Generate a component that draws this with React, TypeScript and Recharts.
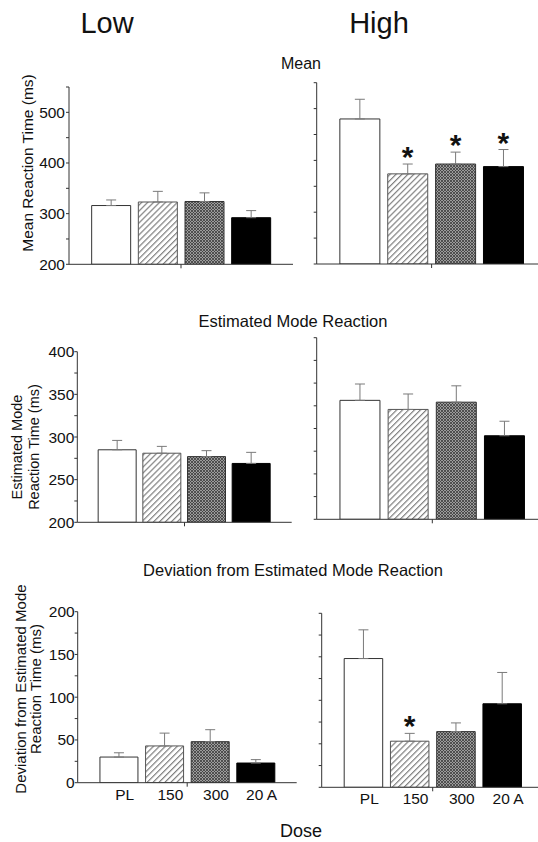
import React from 'react';
import { ComposedChart, Bar, Cell, ErrorBar, Scatter, XAxis, YAxis } from 'recharts';

const FONT = '"Liberation Sans", Arial, Helvetica, sans-serif';
const AXIS = '#333';

// categories
const doses = ['PL', '150', '300', '20 A'];

// Mean reaction time (ms)
const meanLow = [316, 323, 324, 292];
const meanLowErr = [11, 21, 17, 14];
const meanHigh = [480, 374, 393, 388];
const meanHighErr = [38, 19, 23, 33];
const meanHighStar = [false, true, true, true];

// Estimated mode reaction time (ms)
const modeLow = [285, 281, 277, 269];
const modeLowErr = [11, 8, 7, 13];
const modeHigh = [331, 321, 329, 292];
const modeHighErr = [18, 17, 18, 16];

// Deviation from estimated mode (ms)
const devLow = [30, 43, 48, 23];
const devLowErr = [5, 15, 14, 4];
const devHigh = [148, 53, 64, 96];
const devHighErr = [33, 9, 10, 36];
const devHighStar = [false, true, false, false];

// y ticks (all drawn) and which of them carry a label
const meanTicks = [200, 250, 300, 350, 400, 450, 500, 550];
const meanLabels = [200, 300, 400, 500];
const modeTicks = [200, 225, 250, 275, 300, 325, 350, 375, 400];
const modeLabels = [200, 250, 300, 350, 400];
const devTicks = [0, 25, 50, 75, 100, 125, 150, 175, 200];
const devLabels = [0, 50, 100, 150, 200];

type Box = {
  left: number; top: number; width: number; height: number;
  axisW: number; mTop: number; mRight: number; xH: number; barSize: number; tickGap: number;
};

const StarShape = (props: any) => {
  const { cx, cy, payload } = props;
  if (!payload || payload.star == null || !Number.isFinite(cy)) return <g />;
  return (
    <text x={cx} y={cy + 3} textAnchor="middle" fontSize={30} fontWeight="bold" fontFamily={FONT} fill="#111">
      *
    </text>
  );
};

const XTick = (props: any) => {
  const { x, y, payload, showLabel } = props;
  const v = payload.value;
  if (v === 1.5) return <line x1={x} x2={x} y1={y - 4} y2={y} stroke={AXIS} strokeWidth={1} />;
  if (!showLabel) return <g />;
  return (
    <text x={x + 6} y={y + 2} dy="0.71em" textAnchor="middle" fontSize={15.5} fontFamily={FONT} fill="#111">
      {doses[v]}
    </text>
  );
};

function Panel({ id, box, values, errs, stars, ticks, labels, showY, showX }: {
  id: string; box: Box; values: number[]; errs: number[]; stars?: boolean[];
  ticks: number[]; labels: number[]; showY: boolean; showX: boolean;
}) {
  const rows = doses.map((dose, i) => ({
    pos: i,
    dose,
    value: values[i],
    err: [0, errs[i]],
    star: stars && stars[i] ? values[i] + errs[i] : null,
  }));
  const fills = ['#ffffff', `url(#${id}-hatch)`, `url(#${id}-cross)`, '#000000'];
  const strokes = ['#333', '#555', '#333', '#000'];

  return (
    <div style={{ position: 'absolute', left: box.left, top: box.top }}>
      <ComposedChart
        width={box.width} height={box.height} data={rows}
        margin={{ top: box.mTop, right: box.mRight, left: 0, bottom: 0 }}
      >
        <defs>
          <pattern id={`${id}-hatch`} width={4.2} height={4.2} patternUnits="userSpaceOnUse" patternTransform="rotate(45)">
            <rect width={4.2} height={4.2} fill="#fff" />
            <line x1={0.6} y1={0} x2={0.6} y2={4.2} stroke="#808080" strokeWidth={1.2} />
          </pattern>
          <pattern id={`${id}-cross`} width={3} height={3} patternUnits="userSpaceOnUse">
            <rect width={3} height={3} fill="#9c9c9c" />
            <path d="M0,0 L3,3 M3,0 L0,3" stroke="#3c3c3c" strokeWidth={0.8} />
          </pattern>
        </defs>
        <XAxis
          dataKey="pos" type="number" domain={[-0.9, 3.9]} allowDataOverflow
          ticks={[0, 1, 1.5, 2, 3]} interval={0} height={box.xH}
          tickLine={false} tickSize={4} tickMargin={0}
          axisLine={{ stroke: AXIS }}
          tick={(p: any) => <XTick {...p} showLabel={showX} />}
        />
        <YAxis
          type="number" domain={[ticks[0], ticks[ticks.length - 1]]} allowDataOverflow
          ticks={ticks} interval={0} width={box.axisW} tickSize={3} tickMargin={box.tickGap}
          tickFormatter={(v: number) => (showY && labels.includes(v) ? String(v) : '')}
          tick={{ fontSize: 15.5, fill: '#111', fontFamily: FONT }}
          axisLine={{ stroke: AXIS }} tickLine={{ stroke: AXIS }}
        />
        <Bar dataKey="value" barSize={box.barSize} strokeWidth={1} isAnimationActive={false}>
          {rows.map((r, i) => <Cell key={r.dose} fill={fills[i]} stroke={strokes[i]} />)}
          <ErrorBar dataKey="err" direction="y" width={5} stroke="#7a7a7a" strokeWidth={1} />
        </Bar>
        <Scatter dataKey="star" isAnimationActive={false} shape={StarShape} />
      </ComposedChart>
    </div>
  );
}

const txt = (style: React.CSSProperties, content: React.ReactNode, key: string) => (
  <div key={key} style={{ position: 'absolute', whiteSpace: 'nowrap', color: '#111', fontFamily: FONT, ...style }}>
    {content}
  </div>
);

const center = { transform: 'translate(-50%, -50%)' };
const rot = { transform: 'translate(-50%, -50%) rotate(-90deg)', textAlign: 'center' as const };

export default function App() {
  return (
    <div style={{
      position: 'fixed', left: 0, top: 0, width: 538, height: 842,
      overflow: 'hidden', background: '#fff', fontFamily: FONT,
    }}>
      {txt({ left: 107, top: 23, fontSize: 29, ...center }, 'Low', 'low')}
      {txt({ left: 379, top: 23, fontSize: 29, ...center }, 'High', 'high')}
      {txt({ left: 301, top: 64, fontSize: 16, ...center }, 'Mean', 't1')}
      {txt({ left: 293, top: 321, fontSize: 16.5, ...center }, 'Estimated Mode Reaction', 't2')}
      {txt({ left: 293, top: 570, fontSize: 16.5, ...center }, 'Deviation from Estimated Mode Reaction', 't3')}
      {txt({ left: 301, top: 831, fontSize: 18, ...center }, 'Dose', 'dose')}

      {txt({ left: 28, top: 163, fontSize: 15.5, ...rot }, 'Mean Reaction Time (ms)', 'y1')}
      {txt({ left: 26, top: 447, fontSize: 14.5, lineHeight: '17px', ...rot },
        <>Estimated Mode<br />Reaction Time (ms)</>, 'y2')}
      {txt({ left: 28, top: 689, fontSize: 15, lineHeight: '15px', ...rot },
        <>Deviation from Estimated Mode<br />Reaction Time (ms)</>, 'y3')}

      <Panel id="tl" values={meanLow} errs={meanLowErr} ticks={meanTicks} labels={meanLabels} showY showX={false}
        box={{ left: 0, top: 70, width: 300, height: 230, axisW: 69, mTop: 17, mRight: 7, xH: 35.7, barSize: 39, tickGap: 1 }} />
      <Panel id="tr" values={meanHigh} errs={meanHighErr} stars={meanHighStar} ticks={meanTicks} labels={meanLabels} showY={false} showX={false}
        box={{ left: 250, top: 70, width: 300, height: 230, axisW: 66.7, mTop: 12.7, mRight: 3.5, xH: 36, barSize: 40, tickGap: 1 }} />
      <Panel id="ml" values={modeLow} errs={modeLowErr} ticks={modeTicks} labels={modeLabels} showY showX={false}
        box={{ left: 0, top: 330, width: 300, height: 230, axisW: 77.3, mTop: 21.7, mRight: 8.3, xH: 37.7, barSize: 38, tickGap: 0 }} />
      <Panel id="mr" values={modeHigh} errs={modeHighErr} ticks={modeTicks} labels={modeLabels} showY={false} showX={false}
        box={{ left: 250, top: 330, width: 300, height: 230, axisW: 66.7, mTop: 7.7, mRight: 2.1, xH: 40.7, barSize: 40, tickGap: 0 }} />
      <Panel id="bl" values={devLow} errs={devLowErr} ticks={devTicks} labels={devLabels} showY showX
        box={{ left: 0, top: 590, width: 300, height: 230, axisW: 77.7, mTop: 21.7, mRight: 3.3, xH: 37.3, barSize: 38, tickGap: 0 }} />
      <Panel id="br" values={devHigh} errs={devHighErr} stars={devHighStar} ticks={devTicks} labels={devLabels} showY={false} showX
        box={{ left: 250, top: 590, width: 300, height: 230, axisW: 71.7, mTop: 23.3, mRight: 6.3, xH: 32.7, barSize: 38.5, tickGap: 0 }} />
    </div>
  );
}
